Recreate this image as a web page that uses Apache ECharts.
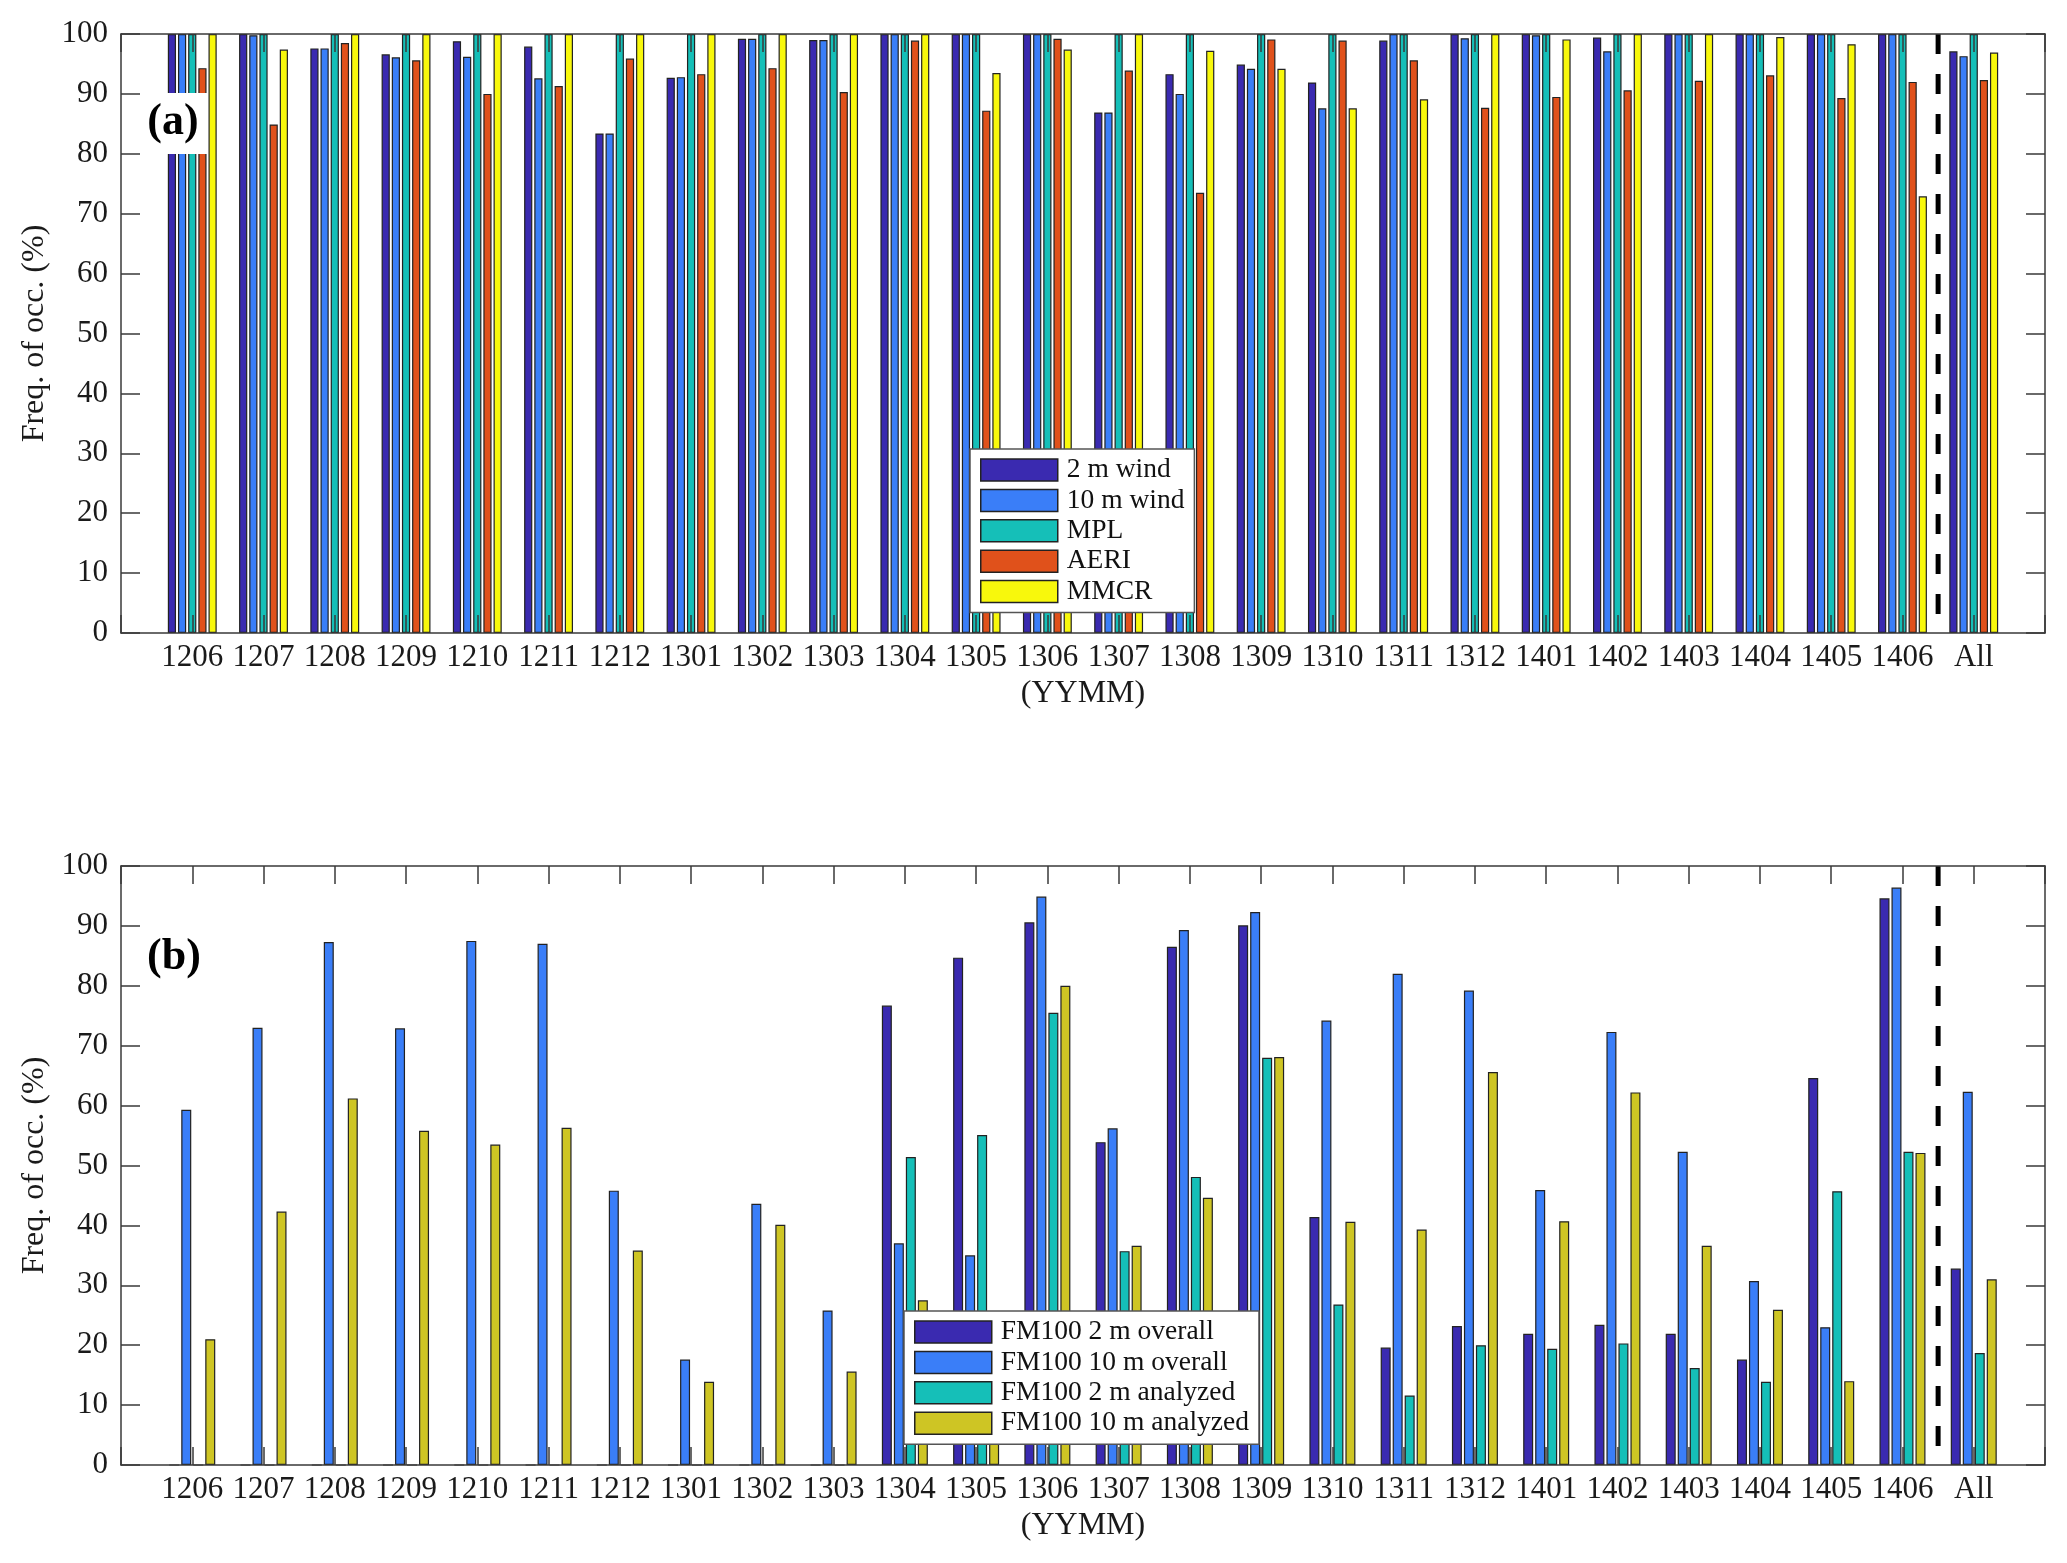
<!DOCTYPE html>
<html><head><meta charset="utf-8">
<script src="https://cdn.jsdelivr.net/npm/echarts@6/dist/echarts.min.js"></script>
<style>html,body{margin:0;padding:0;background:#fff}#c{width:2067px;height:1563px}</style>
</head><body><div id="c"></div>
<script>
const categories = ['1206','1207','1208','1209','1210','1211','1212','1301','1302','1303','1304','1305','1306','1307','1308','1309','1310','1311','1312','1401','1402','1403','1404','1405','1406','All'];
const yTicks = [0,10,20,30,40,50,60,70,80,90,100];

// Panel (a)
const aNames = ['2 m wind','10 m wind','MPL','AERI','MMCR'];
const wind2m  = [100,100,97.6,96.6,98.8,97.9,83.4,92.7,99.2,99.0,100,100,100,86.9,93.3,94.9,91.9,98.9,100,100,99.4,100,100,100,100,97.1];
const wind10m = [100,99.8,97.6,96.1,96.2,92.6,83.4,92.8,99.2,99.0,100,100,100,86.9,90.0,94.2,87.6,100,99.3,99.8,97.1,100,100,100,100,96.3];
const mpl     = [100,100,100,100,100,100,100,100,100,100,100,100,100,100,100,100,100,100,100,100,100,100,100,100,100,100];
const aeri    = [94.3,84.9,98.5,95.6,90.0,91.3,95.9,93.3,94.3,90.3,98.9,87.2,99.2,93.9,73.5,99.1,98.9,95.6,87.7,89.5,90.6,92.2,93.1,89.3,92.0,92.3];
const mmcr    = [100,97.4,100,100,100,100,100,100,100,100,100,93.5,97.4,100,97.2,94.2,87.6,89.1,100,99.1,100,100,99.5,98.3,72.9,96.9];

// Panel (b)
const bNames = ['FM100 2 m overall','FM100 10 m overall','FM100 2 m analyzed','FM100 10 m analyzed'];
const fm2mOverall   = [0,0,0,0,0,0,0,0,0,0,76.7,84.7,90.6,53.9,86.5,90.1,41.4,19.6,23.2,21.9,23.4,21.9,17.6,64.6,94.6,32.8];
const fm10mOverall  = [59.3,73.0,87.3,72.9,87.5,87.0,45.8,17.6,43.6,25.8,37.0,35.0,94.9,56.2,89.3,92.3,74.2,82.0,79.2,45.9,72.3,52.3,30.7,23.0,96.4,62.3];
const fm2mAnalyzed  = [0,0,0,0,0,0,0,0,0,0,51.4,55.1,75.5,35.7,48.1,68.0,26.8,11.6,20.0,19.4,20.3,16.2,13.9,45.7,52.3,18.7];
const fm10mAnalyzed = [21.0,42.3,61.2,55.8,53.5,56.3,35.8,13.9,40.1,15.6,27.5,22.0,80.0,36.6,44.6,68.1,40.6,39.3,65.6,40.7,62.2,36.6,25.9,14.0,52.1,31.0];

const aColors = ['#3a2ab0','#3a7ef8','#15bfb8','#e0511b','#f8f80c'];
const bColors = ['#3a2ab0','#3a7ef8','#15bfb8','#cec524'];

const FONT = '"Liberation Serif", "Times New Roman", serif';
const lineSt = {color:'#3a3a3a', width:1.5};
const tickSt = {color:'#3a3a3a', width:1.5};

function xAxes(g){
  return [
    {type:'value', gridIndex:g, min:0, max:categories.length+1, interval:1, position:'bottom', z:10,
     axisLine:{show:true,onZero:false,lineStyle:lineSt},
     axisTick:{show:true,inside:true,length:18,lineStyle:tickSt},
     axisLabel:{fontSize:31,fontFamily:FONT,color:'#1a1a1a',margin:9,
       formatter:v=>categories[v-1]||''},
     splitLine:{show:false},
     name:'(YYMM)', nameLocation:'middle', nameGap:45,
     nameTextStyle:{fontSize:32,fontFamily:FONT,color:'#1a1a1a'}},
    {type:'value', gridIndex:g, min:0, max:categories.length+1, interval:1, position:'top', z:10,
     axisLine:{show:true,onZero:false,lineStyle:lineSt},
     axisTick:{show:true,inside:true,length:18,lineStyle:tickSt},
     axisLabel:{show:false}, splitLine:{show:false}}
  ];
}
function yAxes(g){
  return [
    {type:'value', gridIndex:g, min:yTicks[0], max:yTicks[yTicks.length-1], interval:yTicks[1]-yTicks[0], position:'left', z:10,
     axisLine:{show:true,onZero:false,lineStyle:lineSt},
     axisTick:{show:true,inside:true,length:19,lineStyle:tickSt},
     axisLabel:{fontSize:31,fontFamily:FONT,color:'#1a1a1a',margin:13},
     splitLine:{show:false},
     name:'Freq. of occ. (%)', nameLocation:'middle', nameGap:70,
     nameTextStyle:{fontSize:32,fontFamily:FONT,color:'#1a1a1a'}},
    {type:'value', gridIndex:g, min:yTicks[0], max:yTicks[yTicks.length-1], interval:yTicks[1]-yTicks[0], position:'right', z:10,
     axisLine:{show:true,onZero:false,lineStyle:lineSt},
     axisTick:{show:true,inside:true,length:19,lineStyle:tickSt},
     axisLabel:{show:false}, splitLine:{show:false}}
  ];
}

function barSeries(name, vals, color, axisIdx, bw, gap){
  return {
    type:'bar', name, xAxisIndex:axisIdx, yAxisIndex:axisIdx,
    data: categories.map((c,i)=>[i+1, vals[i]]),
    barWidth:bw, barGap:gap,
    itemStyle:{color, borderColor:'#222', borderWidth:1.2},
    emphasis:{disabled:true}, animation:false
  };
}
// dashed separator between the monthly bars and the "All" bar
const sepX = categories.length - 0.5;
function sepSeries(axisIdx){
  return {type:'line', xAxisIndex:axisIdx, yAxisIndex:axisIdx, silent:true, symbol:'none', z:5,
    data:[[sepX, yTicks[yTicks.length-1]],[sepX, yTicks[0]]],
    lineStyle:{color:'#000', width:5, type:[20,20]}, animation:false};
}

const aVals = [wind2m, wind10m, mpl, aeri, mmcr];
const bVals = [fm2mOverall, fm10mOverall, fm2mAnalyzed, fm10mAnalyzed];
const series = [];
aNames.forEach((n,i)=>series.push(barSeries(n, aVals[i], aColors[i], 0, 8.2, '24%')));
bNames.forEach((n,i)=>series.push(barSeries(n, bVals[i], bColors[i], 2, 10, '20%')));
series.push(sepSeries(0), sepSeries(2));

function legend(names, left, top){
  return {orient:'vertical', left, top, data:names, icon:'rect',
    itemWidth:77, itemHeight:22, itemGap:2.4, padding:[7,10,7,10],
    backgroundColor:'#fff', borderColor:'#555', borderWidth:1.5,
    textStyle:{fontSize:27.5, fontFamily:FONT, color:'#111', padding:[0,0,0,4]},
    itemStyle:{borderColor:'#222', borderWidth:1.5},
    selectedMode:false, z:20};
}

function panelLabel(txt, cx, cy, box){
  const els = [];
  if (box) els.push({type:'rect', z:100, shape:{x:cx-29, y:cy-30, width:64, height:61}, style:{fill:'#fff'}});
  els.push({type:'text', z:101, style:{text:txt, x:cx, y:cy, fontSize:44, fontWeight:'bold', fontFamily:FONT, fill:'#000', align:'center', verticalAlign:'middle'}});
  return els;
}

const chart = echarts.init(document.getElementById('c'), null, {renderer:'canvas'});
chart.setOption({
  backgroundColor:'#fff',
  animation:false,
  grid:[{left:121, top:34, width:1924, height:599},
        {left:121, top:866, width:1924, height:599}],
  xAxis:[...xAxes(0), ...xAxes(1)],
  yAxis:[...yAxes(0), ...yAxes(1)],
  legend:[legend(aNames, 970, 449), legend(bNames, 904, 1311)],
  series,
  graphic:[...panelLabel('(a)', 173, 123, true), ...panelLabel('(b)', 174, 958, false)]
});
</script></body></html>
